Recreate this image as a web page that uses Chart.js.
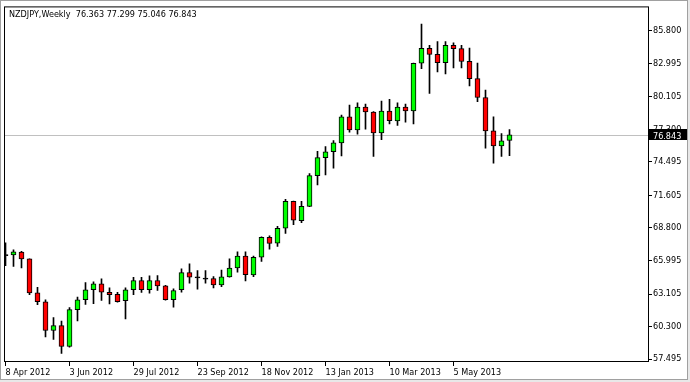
<!DOCTYPE html>
<html>
<head>
<meta charset="utf-8">
<script src="https://cdn.jsdelivr.net/npm/chart.js@4.4.1/dist/chart.umd.min.js"></script>
<style>
  html, body { margin: 0; padding: 0; background: #fff; overflow: hidden; }
</style>
</head>
<body>
<canvas id="chart" width="690" height="382"></canvas>
<script>
// NZDJPY weekly candles, 8 Apr 2012 .. 23 Jun 2013
const symbol = 'NZDJPY,Weekly';
const dateTickIndex = [0, 8, 16, 24, 32, 40, 48, 56];
const dateLabels = ['8 Apr 2012', '3 Jun 2012', '29 Jul 2012', '23 Sep 2012', '18 Nov 2012', '13 Jan 2013', '10 Mar 2013', '5 May 2013'];
const priceTicks = [85.800, 82.995, 80.105, 77.300, 74.495, 71.605, 68.800, 65.995, 63.105, 60.300, 57.495];

const opens = [66.50, 66.47, 66.73, 66.13, 63.21, 62.44, 59.96, 60.38, 58.58, 61.76,
  62.61, 63.47, 63.98, 63.26, 63.07, 62.53, 63.47, 64.27, 63.47, 64.27,
  63.81, 62.61, 63.47, 64.95, 64.58, 64.47, 64.44, 63.90, 64.58, 65.35,
  66.38, 64.75, 66.28, 67.99, 67.50, 68.78, 71.10, 69.43, 70.67, 73.32,
  74.87, 75.38, 76.15, 78.38, 77.27, 79.24, 78.81, 77.01, 78.89, 78.04,
  79.24, 78.89, 83.01, 84.29, 83.78, 83.06, 84.55, 84.28, 83.18, 81.69,
  80.06, 77.18, 75.89, 76.363];
const highs = [67.52, 66.92, 66.78, 66.15, 63.69, 62.61, 61.07, 60.78, 61.93, 62.84,
  64.10, 64.15, 64.41, 63.64, 63.26, 63.64, 64.55, 64.55, 64.67, 64.69,
  63.86, 63.55, 65.27, 65.70, 65.12, 65.12, 64.61, 65.18, 66.13, 66.75,
  66.75, 66.38, 68.04, 68.12, 68.94, 71.28, 71.12, 71.10, 73.50, 75.41,
  75.83, 76.35, 78.55, 79.41, 79.60, 79.49, 78.85, 79.75, 79.89, 79.60,
  79.49, 83.03, 86.40, 84.55, 84.89, 84.89, 84.77, 84.55, 84.32, 83.03,
  80.69, 78.38, 76.95, 77.299];
const lows = [65.55, 65.49, 65.35, 63.04, 62.18, 59.41, 59.18, 57.99, 58.53, 60.78,
  62.21, 62.27, 62.55, 62.24, 62.41, 60.95, 63.04, 63.24, 63.18, 63.41,
  62.58, 61.98, 63.26, 64.03, 63.52, 64.03, 63.64, 63.73, 64.55, 64.98,
  64.24, 64.61, 65.92, 66.97, 67.21, 68.34, 69.08, 69.25, 70.65, 72.52,
  73.38, 73.97, 75.02, 77.06, 76.89, 77.32, 74.98, 76.41, 77.78, 77.66,
  77.92, 77.78, 82.54, 80.40, 82.26, 82.09, 82.60, 82.60, 81.06, 79.69,
  75.69, 74.40, 74.98, 75.046];
const closes = [66.42, 66.75, 66.13, 63.21, 62.44, 59.96, 60.38, 58.58, 61.76, 62.61,
  63.47, 63.98, 63.26, 63.04, 62.44, 63.47, 64.27, 63.47, 64.27, 63.81,
  62.61, 63.41, 64.95, 64.55, 64.50, 64.39, 63.90, 64.58, 65.35, 66.38,
  64.78, 66.26, 67.99, 67.48, 68.78, 71.10, 69.47, 70.67, 73.32, 74.87,
  75.38, 76.15, 78.38, 77.27, 79.24, 78.81, 77.01, 78.89, 78.06, 79.24,
  78.89, 83.01, 84.29, 83.78, 83.06, 84.55, 84.26, 83.18, 81.69, 80.06,
  77.18, 75.89, 76.32, 76.843];

const font = { family: "'DejaVu Sans Condensed', 'DejaVu Sans', sans-serif", size: 9 };

const bodies = opens.map((o, i) => ({ x: i, y: [o, closes[i]] }));
const wicks = highs.map((h, i) => ({ x: i, y: [lows[i], h] }));
const bodyColors = opens.map((o, i) => {
  if (Math.abs(closes[i] - o) < 0.1) return '#000000';
  return closes[i] > o ? '#00ff00' : '#ff0000';
});

const last = opens.length - 1;

const frame = {
  id: 'frame',
  beforeDraw(chart) {
    const ctx = chart.ctx;
    ctx.save();
    ctx.fillStyle = '#ffffff';
    ctx.fillRect(0, 0, chart.width, chart.height);
    ctx.fillStyle = '#a0a0a0';
    ctx.fillRect(0, 0, chart.width, 1);
    ctx.fillRect(0, 0, 1, chart.height);
    ctx.fillRect(687, 0, 1, chart.height);
    ctx.fillRect(0, 379, chart.width, 1);
    ctx.fillStyle = '#e8e8e8';
    ctx.fillRect(688, 0, 2, chart.height);
    ctx.fillRect(0, 380, chart.width, 2);
    ctx.restore();
  },
  beforeDatasetsDraw(chart) {
    const ctx = chart.ctx, a = chart.chartArea;
    const py = Math.round(chart.scales.y.getPixelForValue(closes[last]));
    ctx.save();
    ctx.strokeStyle = '#c0c0c0';
    ctx.lineWidth = 1;
    ctx.beginPath();
    ctx.moveTo(a.left, py + 0.5);
    ctx.lineTo(a.right, py + 0.5);
    ctx.stroke();
    ctx.restore();
  },
  afterDraw(chart) {
    const ctx = chart.ctx, a = chart.chartArea;
    ctx.save();
    ctx.strokeStyle = '#000000';
    ctx.lineWidth = 1;
    ctx.strokeRect(a.left + 0.5, a.top + 0.5, a.right - a.left, a.bottom - a.top - 1);

    const f = font.size + 'px ' + font.family;
    ctx.font = f;
    ctx.fillStyle = '#000000';
    ctx.textBaseline = 'alphabetic';
    ctx.fillText(symbol + '  ' + opens[last].toFixed(3) + ' ' + highs[last].toFixed(3) + ' ' +
      lows[last].toFixed(3) + ' ' + closes[last].toFixed(3), 9, 17);

    const py = Math.round(chart.scales.y.getPixelForValue(closes[last]));
    ctx.fillRect(a.right + 1, py - 6, 38, 11);
    ctx.fillStyle = '#ffffff';
    ctx.fillText(closes[last].toFixed(3), a.right + 5, py + 4);
    ctx.restore();
  }
};

new Chart(document.getElementById('chart').getContext('2d'), {
  type: 'bar',
  data: {
    datasets: [{
      label: 'body',
      data: bodies,
      backgroundColor: bodyColors,
      borderColor: '#000000',
      borderWidth: 1,
      borderSkipped: false,
      grouped: false,
      maxBarThickness: 5,
      barPercentage: 1,
      categoryPercentage: 1
    }, {
      label: 'wick',
      data: wicks,
      backgroundColor: '#000000',
      borderWidth: 0,
      grouped: false,
      maxBarThickness: 1,
      barPercentage: 1,
      categoryPercentage: 1
    }]
  },
  options: {
    responsive: false,
    animation: false,
    devicePixelRatio: 1,
    layout: { padding: { left: 4, top: 4, right: 0, bottom: 0 } },
    plugins: {
      legend: { display: false },
      tooltip: { enabled: false }
    },
    scales: {
      x: {
        type: 'linear',
        offset: false,
        min: -0.1875,
        max: 80.3125,
        afterBuildTicks: s => { s.ticks = dateTickIndex.map(v => ({ value: v })); },
        afterFit: s => { s.height = 20; },
        ticks: {
          autoSkip: false,
          maxRotation: 0,
          align: 'start',
          padding: 1,
          color: '#000000',
          font: font,
          callback: v => dateLabels[dateTickIndex.indexOf(v)]
        },
        grid: { offset: false, drawOnChartArea: false, drawTicks: true, tickLength: 4, color: '#000000' },
        border: { display: false }
      },
      y: {
        type: 'linear',
        position: 'right',
        min: 57.24,
        max: 87.917,
        afterBuildTicks: s => { s.ticks = priceTicks.map(v => ({ value: v })); },
        afterFit: s => { s.width = 42; },
        ticks: {
          padding: 1,
          color: '#000000',
          font: font,
          callback: v => v.toFixed(3)
        },
        grid: { drawOnChartArea: false, drawTicks: true, tickLength: 4, color: '#000000' },
        border: { display: false }
      }
    }
  },
  plugins: [frame]
});
</script>
</body>
</html>
